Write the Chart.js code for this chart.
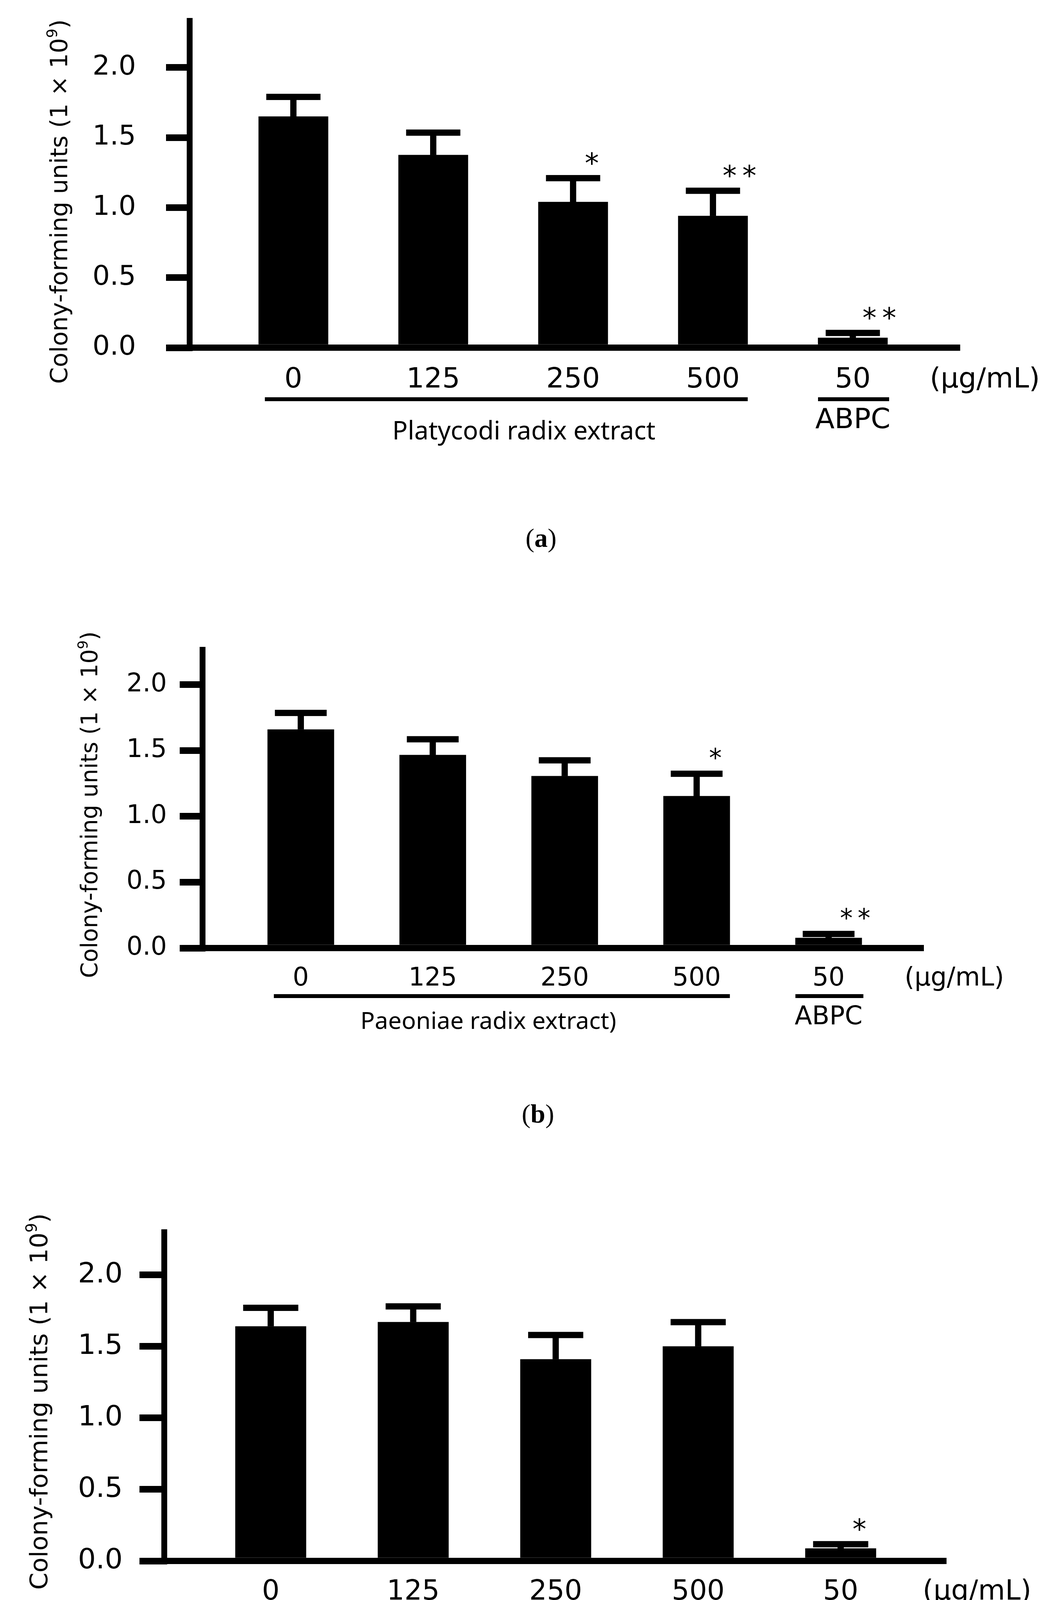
<!DOCTYPE html>
<html>
<head>
<meta charset="utf-8">
<script src="https://cdn.jsdelivr.net/npm/chart.js@4.4.1/dist/chart.umd.min.js"></script>
<style>
  html, body { margin: 0; padding: 0; background: #fff; }
  #page { position: relative; width: 2716px; height: 4544px; }
  canvas { position: absolute; left: 0; }
</style>
</head>
<body>
<div id="page">
  <canvas id="chartA" width="2716" height="1500" style="top:0px"></canvas>
  <canvas id="chartB" width="2716" height="1520" style="top:1500px"></canvas>
  <canvas id="chartC" width="2716" height="1524" style="top:3020px"></canvas>
</div>
<script>
// doses under each bar, the last one is the ABPC control
var doses = ['0', '125', '250', '500', '50'];
var yTicks = [0, 0.5, 1.0, 1.5, 2.0];

var meanA = [1.65, 1.375, 1.04, 0.94, 0.07];
var sdA   = [0.14, 0.16, 0.17, 0.18, 0.035];
var sigA  = ['', '', '*', '**', '**'];

var meanB = [1.66, 1.466, 1.306, 1.154, 0.077];
var sdB   = [0.126, 0.12, 0.12, 0.17, 0.03];
var sigB  = ['', '', '', '*', '**'];

var meanC = [1.64, 1.67, 1.41, 1.50, 0.087];
var sdC   = [0.13, 0.11, 0.17, 0.17, 0.03];
var sigC  = ['', '', '', '', '*'];

var groupLabels = ['Platycodi radix extract', 'Paeoniae radix extract)', 'Aurantii fructus immaturus extract'];
var controlLabel = 'ABPC';
var unitLabel = '(\u03BCg/mL)';
var yTitle = 'Colony-forming units (1 \u00D7 10';
var yTitleSup = '9';
var yTitleEnd = ')';
var panelLetters = ['a', 'b', 'c'];

var SANS = '"DejaVu Sans"';

function drawYTitle(ctx, cx, cy, size) {
  var f = size + 'px ' + SANS;
  var fs = Math.round(size * 0.62) + 'px ' + SANS;
  ctx.save();
  ctx.translate(cx, cy);
  ctx.rotate(-Math.PI / 2);
  ctx.textAlign = 'left';
  ctx.textBaseline = 'middle';
  ctx.font = f;
  var w1 = ctx.measureText(yTitle).width;
  var w3 = ctx.measureText(yTitleEnd).width;
  ctx.font = fs;
  var w2 = ctx.measureText(yTitleSup).width;
  var x = -(w1 + w2 + w3) / 2;
  ctx.font = f;
  ctx.fillText(yTitle, x, 0);
  ctx.font = fs;
  ctx.fillText(yTitleSup, x + w1, -size * 0.33);
  ctx.font = f;
  ctx.fillText(yTitleEnd, x + w1 + w2, 0);
  ctx.restore();
}

function drawLetter(ctx, letter, cx, cy, size) {
  var fn = size + 'px "Liberation Serif"';
  var fb = 'bold ' + fn;
  ctx.font = fn;
  var wp = ctx.measureText('(').width;
  var wq = ctx.measureText(')').width;
  ctx.font = fb;
  var wl = ctx.measureText(letter).width;
  var x = cx - (wp + wl + wq) / 2;
  ctx.textAlign = 'left';
  ctx.textBaseline = 'middle';
  ctx.font = fn; ctx.fillText('(', x, cy);
  ctx.font = fb; ctx.fillText(letter, x + wp, cy);
  ctx.font = fn; ctx.fillText(')', x + wp + wl, cy);
}

var panelPlugin = {
  id: 'panel',
  afterDatasetsDraw: function (chart, args, opts) {
    var ctx = chart.ctx;
    var ds = chart.data.datasets[0];
    var yScale = chart.scales.y;
    var bars = chart.getDatasetMeta(0).data;
    ctx.save();
    ctx.fillStyle = '#000';
    bars.forEach(function (bar, i) {
      var v = ds.data[i].y;
      var yTop = yScale.getPixelForValue(v + ds.sd[i]);
      var capW = bar.width * 0.78;
      ctx.fillRect(bar.x - 8, yTop, 16, bar.y - yTop);
      ctx.fillRect(bar.x - capW / 2, yTop - 8, capW, 16);
      if (ds.sig[i]) {
        var s = opts.catFont;
        ctx.font = s + 'px ' + SANS;
        ctx.textAlign = 'center';
        ctx.textBaseline = 'alphabetic';
        var dx = ds.sig[i].length > 1 ? 68 : 48;
        ctx.fillText(ds.sig[i].split('').join('\u2009'), bar.x + dx, yTop - 55 + 0.57 * s);
      }
    });
    ctx.restore();
  },
  afterDraw: function (chart, args, opts) {
    var ctx = chart.ctx;
    var bars = chart.getDatasetMeta(0).data;
    var area = chart.chartArea;
    ctx.save();
    ctx.fillStyle = '#000';
    drawYTitle(ctx, opts.titleX, opts.titleY, opts.titleFont);

    // group underline below the extract doses, and under the control dose
    var b0 = bars[0], b3 = bars[3], b4 = bars[4];
    var x0 = b0.x - b0.width / 2 + 16, x1 = b3.x + b3.width / 2;
    ctx.fillRect(x0, opts.lineY - 5, x1 - x0, 10);
    ctx.fillRect(b4.x - b4.width / 2, opts.lineY - 5, b4.width + 4, 10);

    ctx.textAlign = 'center';
    ctx.textBaseline = 'alphabetic';
    ctx.font = opts.grpFont + 'px "Noto Sans"';
    ctx.fillText(opts.group, opts.grpX, opts.grpBase);

    ctx.font = opts.catFont + 'px ' + SANS;
    ctx.textBaseline = 'middle';
    ctx.fillText(controlLabel, b4.x, opts.abpcY);
    ctx.fillText(unitLabel, opts.unitX, area.bottom + opts.catPad + opts.catFont * 0.6);

    drawLetter(ctx, opts.letter, opts.letterX, opts.letterY, 68);
    ctx.restore();
  }
};

function makeChart(canvasId, mean, sd, sig, group, letter, L) {
  var pts = mean.map(function (v, i) { return { x: i + 1, y: v }; });
  return new Chart(document.getElementById(canvasId), {
    type: 'bar',
    data: {
      datasets: [{
        data: pts,
        sd: sd,
        sig: sig,
        backgroundColor: '#000',
        borderWidth: 0,
        barThickness: L.bar
      }]
    },
    options: {
      responsive: false,
      animation: false,
      devicePixelRatio: 1,
      layout: { padding: { left: 0, top: L.top, right: L.padRight, bottom: L.padBottom } },
      plugins: {
        legend: { display: false },
        tooltip: { enabled: false },
        panel: {
          titleX: L.titleX, titleY: L.titleY, titleFont: L.titleFont,
          lineY: L.lineY, group: group, grpX: L.grpX, grpBase: L.grpBase, grpFont: L.grpFont,
          abpcY: L.abpcY, unitX: L.unitX, catFont: L.catFont, catPad: L.catPad,
          letter: letter, letterX: L.letterX, letterY: L.letterY
        }
      },
      scales: {
        x: {
          type: 'linear',
          offset: false,
          min: L.xMin,
          max: L.xMax,
          afterFit: function (s) {
            s.height = 150;
            s.paddingLeft = 0;
            s.paddingRight = 0;
          },
          afterBuildTicks: function (s) {
            s.ticks = doses.map(function (d, i) { return { value: i + 1 }; });
          },
          ticks: {
            autoSkip: false,
            maxRotation: 0,
            padding: L.catPad,
            color: '#000',
            font: { family: 'DejaVu Sans', size: L.catFont },
            callback: function (v, i) { return doses[i]; }
          },
          grid: { display: true, offset: false, drawOnChartArea: false, drawTicks: false, lineWidth: 0 },
          border: { display: true, width: 16, color: '#000' }
        },
        y: {
          min: 0,
          max: L.yMax,
          afterFit: function (s) {
            s.width = L.left;
            s.paddingTop = 0;
            s.paddingBottom = 0;
          },
          afterBuildTicks: function (s) {
            s.ticks = yTicks.map(function (v) { return { value: v }; });
          },
          ticks: {
            padding: L.tickPad,
            color: '#000',
            font: { family: 'DejaVu Sans', size: L.tickFont },
            callback: function (v) { return v.toFixed(1); }
          },
          grid: { drawOnChartArea: false, drawTicks: true, tickLength: L.tickLen, lineWidth: 17, color: '#000' },
          border: { display: true, width: 15, color: '#000' }
        }
      }
    },
    plugins: [panelPlugin]
  });
}

makeChart('chartA', meanA, sdA, sigA, groupLabels[0], panelLetters[0], {
  top: 53, left: 485, padRight: 258, padBottom: 460,
  yMax: 2.334, xMin: 0.257, xMax: 5.768, bar: 178,
  tickLen: 60, tickPad: 77, tickFont: 70, catFont: 72, catPad: 40,
  titleX: 156, titleY: 516, titleFont: 61,
  lineY: 1022, grpX: 1341, grpBase: 1125, grpFont: 65,
  abpcY: 1077, unitX: 2521, letterX: 1385, letterY: 1382
});

makeChart('chartB', meanB, sdB, sigB, groupLabels[1], panelLetters[1], {
  top: 163, left: 518, padRight: 351, padBottom: 443,
  yMax: 2.267, xMin: 0.254, xMax: 5.722, bar: 170,
  tickLen: 58, tickPad: 33, tickFont: 65, catFont: 65, catPad: 40,
  titleX: 234, titleY: 560, titleFont: 58,
  lineY: 1050, grpX: 1250, grpBase: 1134, grpFont: 61,
  abpcY: 1105, unitX: 2443, letterX: 1377, letterY: 1356
});

makeChart('chartC', meanC, sdC, sigC, groupLabels[2], panelLetters[2], {
  top: 134, left: 420, padRight: 293, padBottom: 398,
  yMax: 2.30, xMin: 0.2515, xMax: 5.743, bar: 181,
  tickLen: 63, tickPad: 43, tickFont: 72, catFont: 71, catPad: 38,
  titleX: 105, titleY: 568, titleFont: 63,
  lineY: 1111, grpX: 1242, grpBase: 1227, grpFont: 66,
  abpcY: 1169, unitX: 2501, letterX: 1287, letterY: 1450
});
</script>
</body>
</html>
